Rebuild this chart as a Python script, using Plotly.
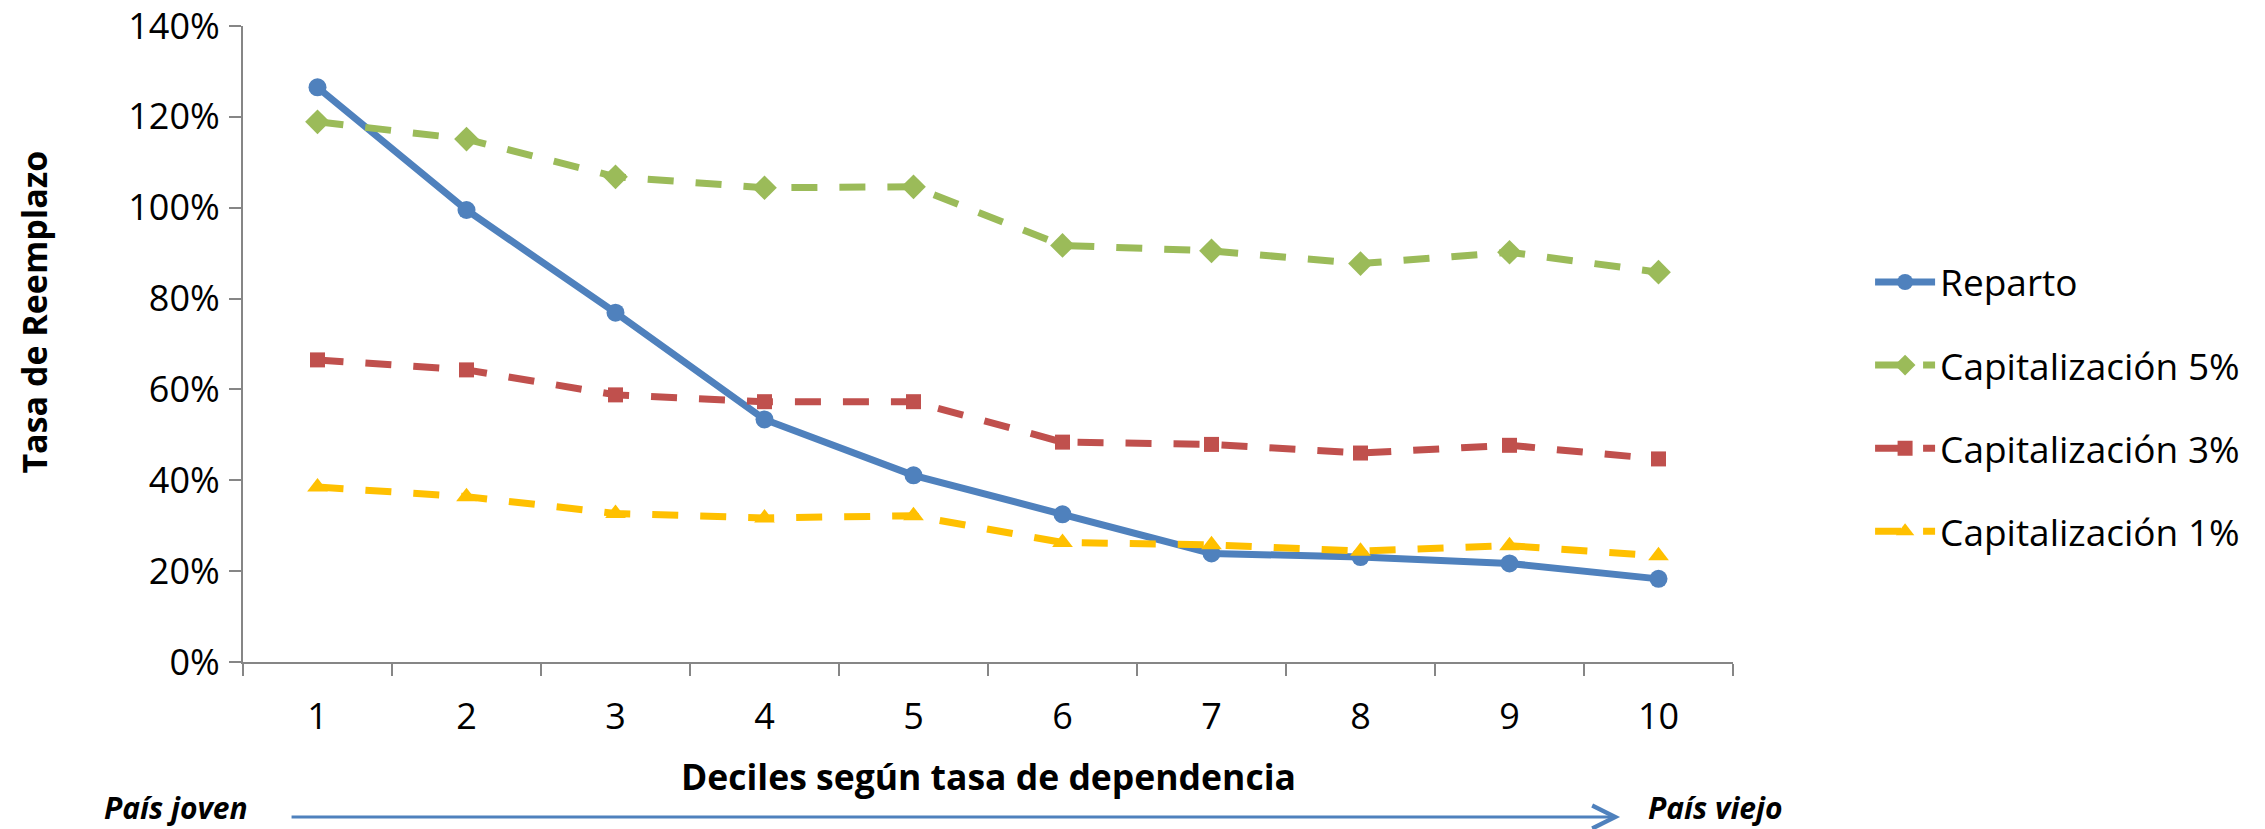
import plotly.graph_objects as go

DECILES = ["1", "2", "3", "4", "5", "6", "7", "8", "9", "10"]

REPARTO = [1.265, 0.995, 0.769, 0.534, 0.411, 0.325, 0.239, 0.231, 0.217, 0.183]
CAP_5 = [1.189, 1.151, 1.068, 1.044, 1.046, 0.917, 0.905, 0.877, 0.902, 0.858]
CAP_3 = [0.665, 0.643, 0.588, 0.573, 0.573, 0.484, 0.479, 0.460, 0.477, 0.447]
CAP_1 = [0.385, 0.364, 0.327, 0.317, 0.322, 0.263, 0.258, 0.244, 0.256, 0.234]

FONT = "Open Sans"
AXIS_GREY = "#868686"

fig = go.Figure()

series = [
    ("Reparto", REPARTO, "#4F81BD", "circle", 18, "solid"),
    ("Capitalización 5%", CAP_5, "#9BBB59", "diamond", 19, "26px,22px"),
    ("Capitalización 3%", CAP_3, "#C0504D", "square", 15, "26px,22px"),
    ("Capitalización 1%", CAP_1, "#FFC000", "triangle-up", 18, "26px,22px"),
]

for name, vals, color, symbol, size, dash in series:
    fig.add_trace(go.Scatter(
        x=DECILES, y=vals, name=name, legendgroup=name,
        mode="lines+markers",
        line=dict(color=color, width=7, dash=dash),
        marker=dict(symbol=symbol, size=size, color=color),
    ))

fig.update_layout(
    width=2265, height=829,
    plot_bgcolor="#ffffff",
    paper_bgcolor="#ffffff",
    font=dict(family=FONT, size=36, color="#000000"),
    margin=dict(l=243, r=532, t=26, b=167, autoexpand=False),
    showlegend=True,
    legend=dict(
        x=1.092, xanchor="left", y=0.401, yanchor="middle",
        tracegroupgap=32, itemwidth=60,
        font=dict(family=FONT, size=37, color="#000000"),
        bgcolor="rgba(0,0,0,0)",
    ),
    xaxis=dict(
        type="category", range=[-0.5, 9.5], automargin=False,
        showline=True, linecolor=AXIS_GREY, linewidth=2,
        ticks="outside", tickson="boundaries", ticklen=12,
        tickcolor=AXIS_GREY, tickwidth=2,
        showgrid=False, zeroline=False,
        ticklabelstandoff=22,
    ),
    yaxis=dict(
        range=[0, 1.4], dtick=0.2, tickformat=".0%", automargin=False,
        showline=True, linecolor=AXIS_GREY, linewidth=2,
        ticks="outside", ticklen=12,
        tickcolor=AXIS_GREY, tickwidth=2,
        showgrid=False, zeroline=False,
        ticklabelstandoff=2,
    ),
)

# axis titles
fig.add_annotation(
    text="<b>Deciles según tasa de dependencia</b>",
    xref="paper", yref="paper", x=0.5, y=-0.179,
    xanchor="center", yanchor="middle", showarrow=False,
    font=dict(family=FONT, size=35.5),
)
fig.add_annotation(
    text="<b>Tasa de Reemplazo</b>",
    xref="paper", yref="paper", x=-0.140, y=0.55,
    xanchor="center", yanchor="middle", textangle=-90, showarrow=False,
    font=dict(family=FONT, size=34),
)

# young -> old arrow
fig.add_annotation(
    text="<b><i>País joven</i></b>",
    xref="paper", yref="paper", x=-0.0946, y=-0.229,
    xanchor="left", yanchor="middle", showarrow=False,
    font=dict(family=FONT, size=30),
)
fig.add_annotation(
    text="<b><i>País viejo</i></b>",
    xref="paper", yref="paper", x=0.9416, y=-0.229,
    xanchor="left", yanchor="middle", showarrow=False,
    font=dict(family=FONT, size=30),
)
fig.add_annotation(
    text="", xref="paper", yref="paper", x=0.9242, y=-0.2437,
    ax=-1330, ay=0, showarrow=True,
    arrowhead=5, arrowsize=1.5, arrowwidth=3, arrowcolor="#4F81BD",
)

fig.write_html(
    "out.html",
    config={"displayModeBar": False},
    post_script="document.body.style.margin='0';document.body.style.overflow='hidden';",
)
